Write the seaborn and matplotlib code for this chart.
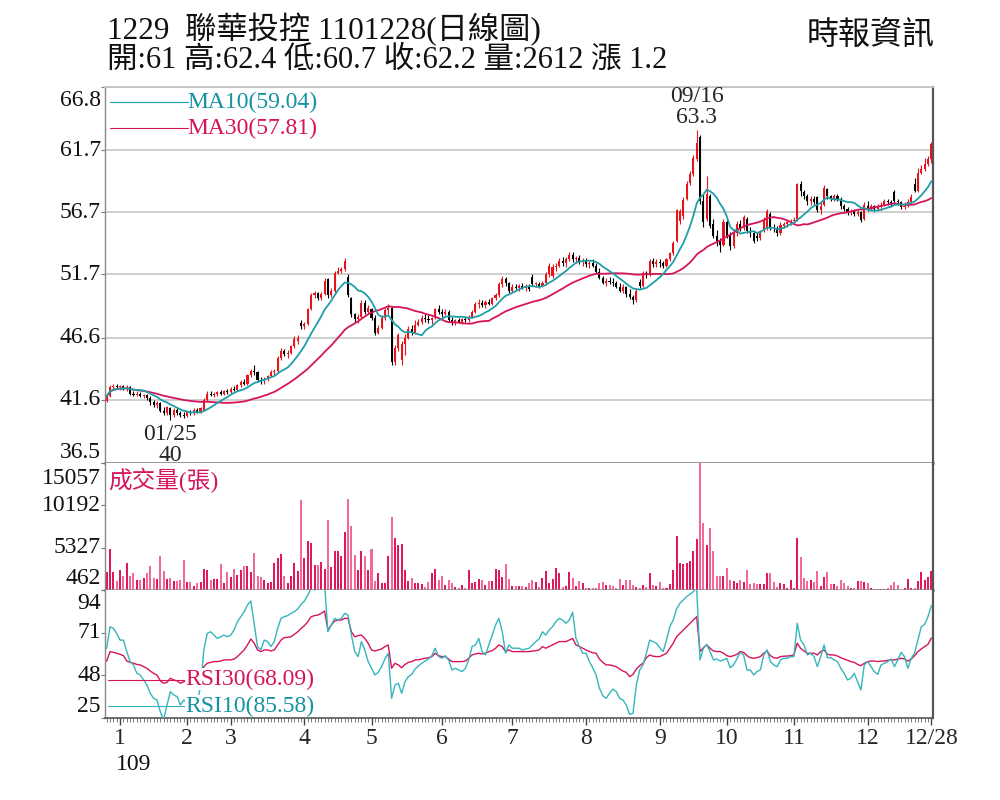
import numpy as np
import pandas as pd
import matplotlib
matplotlib.use("Agg")
import matplotlib.pyplot as plt
import matplotlib.transforms as mtransforms
from matplotlib.ticker import FixedLocator
import seaborn as sns

# daily candles, 2020-12-28 .. 2021-12-28 (trading-day index)
opens = [
    41.5, 41.9, 42.6, 42.7, 42.6, 42.7, 42.5, 42.6, 42.1, 42.0,
    42.1, 41.9, 42.0, 41.7, 41.4, 41.2, 41.3, 40.7, 40.5, 40.9,
    40.4, 40.8, 40.5, 40.4, 40.3, 40.6, 40.5, 40.8, 40.6, 40.8,
    41.6, 42.1, 42.0, 42.1, 42.2, 42.1, 42.3, 42.2, 42.5, 42.4,
    42.8, 43.0, 42.9, 43.6, 43.9, 43.8, 43.2, 43.1, 43.3, 43.5,
    43.8, 43.9, 45.0, 45.5, 45.3, 45.4, 45.9, 46.3, 47.8, 47.5,
    47.7, 48.9, 50.0, 50.2, 49.8, 50.1, 51.3, 50.0, 50.4, 51.8,
    52.0, 52.1, 51.5, 49.8, 48.5, 48.1, 48.3, 49.4, 48.7, 48.9,
    48.2, 47.0, 47.4, 48.2, 48.8, 49.0, 44.6, 45.8, 44.8, 46.1,
    46.6, 47.3, 47.0, 47.6, 47.9, 48.2, 48.1, 48.0, 48.2, 48.9,
    48.7, 48.5, 48.7, 48.0, 47.8, 48.0, 47.9, 48.1, 48.0, 48.3,
    48.7, 49.3, 49.4, 49.2, 49.5, 49.3, 49.8, 50.0, 50.9, 51.3,
    51.0, 50.4, 50.7, 50.6, 50.8, 50.6, 50.7, 51.5, 50.9, 50.9,
    50.8, 51.0, 51.7, 51.6, 52.3, 52.4, 52.8, 52.6, 52.9, 53.3,
    52.9, 53.0, 52.7, 52.8, 52.5, 52.6, 52.4, 51.9, 51.4, 51.0,
    51.2, 51.1, 51.0, 50.7, 50.4, 50.7, 50.1, 49.9, 49.6, 51.1,
    50.8, 51.8, 51.7, 52.8, 52.5, 52.7, 52.6, 52.4, 52.9, 53.4,
    54.4, 56.0, 56.4, 57.8, 59.1, 59.8, 61.0, 62.8, 57.6, 56.2,
    58.0, 55.8, 54.8, 54.4, 54.1, 55.9, 54.8, 54.0, 55.0, 55.8,
    55.4, 56.2, 55.2, 55.0, 54.8, 54.6, 55.2, 55.5, 56.6, 55.5,
    55.4, 55.0, 55.6, 55.8, 55.9, 56.0, 56.1, 59.0, 58.3, 58.0,
    57.6, 57.8, 57.9, 56.9, 57.3, 58.6, 58.0, 57.8, 58.0, 57.8,
    57.2, 57.0, 56.7, 56.8, 56.6, 56.7, 56.2, 57.2, 57.0, 57.2,
    57.0, 57.1, 57.3, 57.6, 57.5, 58.3, 57.6, 57.5, 57.1, 57.2,
    57.5, 59.0, 58.4, 59.9, 60.2, 60.6, 61.0,
]
highs = [
    42.0, 42.8, 42.9, 42.9, 42.8, 42.8, 42.8, 42.7, 42.3, 42.3,
    42.2, 42.1, 42.1, 41.9, 41.6, 41.5, 41.4, 41.0, 41.1, 41.0,
    40.9, 41.0, 40.7, 40.6, 40.7, 40.8, 40.9, 40.9, 41.0, 41.7,
    42.3, 42.3, 42.2, 42.3, 42.4, 42.4, 42.5, 42.6, 42.7, 42.9,
    43.2, 43.3, 43.7, 44.1, 44.4, 43.9, 43.4, 43.4, 43.6, 44.0,
    44.1, 45.1, 45.8, 45.7, 45.6, 46.0, 46.7, 46.8, 48.0, 47.9,
    49.0, 50.2, 50.4, 50.3, 50.3, 51.4, 51.4, 50.6, 52.0, 52.3,
    52.3, 53.0, 51.7, 49.9, 48.6, 48.5, 49.6, 49.6, 49.2, 49.0,
    48.4, 47.6, 48.4, 49.0, 49.3, 49.1, 46.0, 47.0, 46.3, 46.9,
    47.5, 47.6, 48.0, 48.1, 48.4, 48.5, 48.4, 48.3, 49.0, 49.2,
    48.9, 48.9, 48.8, 48.3, 48.1, 48.2, 48.2, 48.3, 48.4, 48.8,
    49.5, 49.7, 49.6, 49.6, 49.7, 49.9, 50.2, 51.1, 51.6, 51.5,
    51.1, 50.9, 50.9, 50.9, 51.0, 50.9, 50.9, 51.7, 51.1, 51.1,
    51.2, 51.9, 52.6, 52.5, 52.6, 53.0, 53.1, 53.1, 53.5, 53.5,
    53.2, 53.3, 53.0, 53.0, 52.8, 52.9, 52.6, 52.2, 51.6, 51.4,
    51.5, 51.4, 51.2, 51.0, 50.9, 50.8, 50.5, 50.0, 50.6, 51.3,
    52.0, 52.0, 52.9, 53.0, 52.9, 52.9, 52.8, 53.0, 53.5, 54.4,
    57.0, 57.0, 57.9, 59.2, 60.0, 61.3, 63.3, 62.9, 58.2, 59.6,
    58.2, 56.2, 55.3, 54.6, 56.2, 56.1, 55.1, 55.3, 56.0, 56.1,
    56.5, 56.3, 55.5, 55.2, 55.1, 55.3, 56.3, 57.0, 56.7, 55.8,
    55.6, 55.9, 55.9, 56.1, 56.2, 56.3, 59.1, 59.2, 58.5, 58.2,
    58.0, 58.0, 58.0, 57.5, 58.9, 58.7, 58.1, 58.2, 58.2, 57.9,
    57.4, 57.1, 57.0, 57.0, 56.9, 56.8, 57.5, 57.6, 57.4, 57.3,
    57.4, 57.5, 57.8, 57.8, 57.7, 58.5, 57.8, 57.6, 57.5, 57.8,
    58.2, 59.5, 60.3, 60.5, 61.1, 61.2, 62.4,
]
lows = [
    41.4, 41.8, 42.4, 42.5, 42.4, 42.4, 42.3, 42.0, 41.9, 41.9,
    41.8, 41.7, 41.6, 41.2, 41.0, 40.9, 40.6, 40.4, 40.4, 40.0,
    40.2, 40.4, 40.2, 40.1, 40.2, 40.4, 40.4, 40.5, 40.5, 40.7,
    41.5, 41.9, 41.8, 41.9, 42.0, 42.0, 42.1, 42.1, 42.3, 42.3,
    42.6, 42.8, 42.8, 43.4, 43.6, 43.0, 42.9, 42.9, 43.1, 43.4,
    43.6, 43.8, 44.8, 45.1, 45.0, 45.3, 45.8, 46.1, 47.3, 47.3,
    47.6, 48.8, 49.8, 49.6, 49.6, 50.0, 49.8, 49.9, 50.3, 51.7,
    51.8, 52.0, 49.9, 48.3, 47.9, 47.8, 48.2, 48.5, 48.5, 48.0,
    46.8, 46.9, 47.3, 48.0, 48.5, 44.4, 44.4, 45.5, 44.4, 45.2,
    46.5, 46.8, 46.9, 47.5, 47.7, 47.9, 47.8, 47.7, 48.1, 48.5,
    48.3, 48.4, 47.9, 47.6, 47.6, 47.8, 47.7, 47.9, 47.9, 48.2,
    48.6, 49.0, 49.1, 49.0, 49.2, 49.2, 49.6, 49.9, 50.7, 50.8,
    50.2, 50.3, 50.5, 50.4, 50.5, 50.4, 50.4, 50.8, 50.7, 50.6,
    50.7, 50.9, 51.5, 51.4, 52.0, 52.3, 52.4, 52.3, 52.8, 52.7,
    52.6, 52.5, 52.4, 52.3, 52.2, 52.3, 51.8, 51.3, 50.9, 50.8,
    50.9, 50.8, 50.6, 50.3, 50.2, 49.9, 49.7, 49.3, 49.5, 50.6,
    50.7, 51.4, 51.6, 52.3, 52.3, 52.3, 52.2, 52.3, 52.8, 53.3,
    54.3, 55.8, 56.2, 57.7, 58.9, 59.6, 60.8, 57.4, 55.5, 56.0,
    55.4, 54.6, 54.0, 53.5, 54.0, 54.6, 53.7, 53.8, 54.8, 55.2,
    55.3, 55.0, 54.7, 54.2, 54.4, 54.5, 55.1, 55.3, 55.3, 55.1,
    54.8, 54.9, 55.4, 55.5, 55.7, 55.8, 56.0, 58.0, 57.8, 57.3,
    57.3, 57.4, 56.7, 56.6, 57.2, 57.8, 57.6, 57.6, 57.6, 57.0,
    56.8, 56.5, 56.5, 56.4, 56.4, 55.9, 56.1, 56.8, 56.9, 56.8,
    56.9, 56.9, 57.2, 57.3, 57.2, 57.4, 57.3, 57.0, 57.0, 57.1,
    57.4, 58.3, 58.3, 59.8, 60.0, 60.4, 60.7,
]
closes = [
    41.9, 42.6, 42.7, 42.6, 42.7, 42.5, 42.6, 42.1, 42.0, 42.1,
    41.9, 42.0, 41.7, 41.4, 41.2, 41.3, 40.7, 40.5, 41.0, 40.4,
    40.8, 40.5, 40.4, 40.3, 40.6, 40.5, 40.8, 40.6, 40.9, 41.6,
    42.1, 42.0, 42.1, 42.2, 42.1, 42.3, 42.2, 42.5, 42.4, 42.8,
    43.0, 42.9, 43.6, 43.9, 43.8, 43.2, 43.1, 43.3, 43.5, 43.8,
    43.9, 45.0, 45.5, 45.3, 45.4, 45.9, 46.5, 46.6, 47.5, 47.7,
    48.9, 50.0, 50.2, 49.8, 50.1, 51.2, 50.0, 50.4, 51.8, 52.0,
    52.1, 52.8, 50.0, 48.5, 48.1, 48.3, 49.4, 48.7, 49.0, 48.2,
    47.0, 47.4, 48.2, 48.8, 49.0, 44.6, 45.8, 46.8, 46.1, 46.6,
    47.3, 47.0, 47.6, 47.9, 48.2, 48.1, 48.0, 48.2, 48.9, 48.7,
    48.5, 48.7, 48.0, 47.8, 48.0, 47.9, 48.1, 48.0, 48.3, 48.7,
    49.3, 49.4, 49.2, 49.5, 49.3, 49.8, 50.0, 50.9, 51.3, 51.0,
    50.4, 50.7, 50.6, 50.8, 50.6, 50.7, 50.5, 50.9, 50.9, 50.8,
    51.0, 51.7, 52.4, 52.3, 52.4, 52.8, 52.6, 52.9, 53.3, 52.9,
    53.0, 52.7, 52.8, 52.5, 52.6, 52.4, 51.9, 51.4, 51.0, 51.2,
    51.1, 51.0, 50.7, 50.4, 50.7, 50.1, 49.9, 49.6, 50.4, 50.8,
    51.8, 51.7, 52.8, 52.5, 52.7, 52.6, 52.4, 52.9, 53.4, 54.2,
    56.9, 56.8, 57.7, 59.0, 59.8, 61.1, 62.3, 57.6, 55.9, 58.2,
    55.6, 54.8, 54.4, 54.1, 55.9, 54.8, 54.0, 55.0, 55.8, 55.4,
    56.3, 55.2, 55.0, 54.4, 54.6, 55.2, 56.1, 56.8, 55.5, 55.4,
    55.0, 55.7, 55.8, 55.9, 56.0, 56.1, 59.0, 58.4, 58.0, 57.6,
    57.8, 57.5, 56.9, 57.2, 58.7, 58.0, 57.8, 58.0, 57.8, 57.2,
    57.0, 56.7, 56.8, 56.6, 56.7, 56.1, 57.3, 57.0, 57.2, 57.0,
    57.1, 57.3, 57.6, 57.5, 57.4, 57.6, 57.5, 57.1, 57.2, 57.5,
    57.9, 58.4, 59.9, 60.2, 60.6, 61.0, 62.2,
]
volumes = [
    2585, 5171, 2508, 1504, 2778, 2118, 3550, 2118, 2392, 1620,
    1620, 1890, 2392, 3164, 1890, 1736, 4400, 2662, 1736, 1890,
    1504, 1504, 1620, 3936, 1427, 1427, 963, 1234, 1427, 2855,
    2778, 1620, 1736, 1736, 3434, 1311, 2508, 2006, 2855, 2199,
    2778, 3242, 3242, 2585, 4708, 2122, 2006, 1620, 1311, 1427,
    3550, 4129, 4592, 2122, 1234, 2122, 3550, 2662, 10808, 4129,
    6136, 5866, 3357, 3357, 3666, 2855, 8491, 3048, 4901, 4978,
    4322, 7140, 10962, 7796, 4515, 2778, 4901, 4400, 2778, 5171,
    1504, 2392, 1311, 1234, 4322, 8839, 6445, 5673, 5750, 2778,
    1504, 1890, 1311, 1311, 1118, 848, 1427, 2392, 2855, 1620,
    2122, 1040, 1620, 1234, 848, 732, 1040, 732, 2778, 1234,
    1427, 1736, 1620, 1040, 1504, 1504, 2855, 2778, 2006, 3434,
    1736, 925, 925, 925, 925, 848, 1234, 1620, 1427, 848,
    1890, 2662, 1234, 1736, 2971, 2392, 848, 925, 2585, 1890,
    963, 1504, 1234, 655, 655, 655, 655, 1311, 1427, 1040,
    1040, 963, 732, 1697, 1040, 1620, 1620, 1040, 848, 732,
    1040, 848, 2392, 1040, 963, 1350, 732, 732, 1118, 2778,
    6715, 3550, 3434, 3550, 3743, 4978, 6368, 15057, 8182, 5673,
    7603, 4901, 2122, 2122, 2122, 2971, 1620, 1504, 1311, 1620,
    1350, 2778, 1157, 1234, 1118, 1118, 1118, 2392, 2392, 1350,
    848, 1234, 1118, 732, 1620, 732, 6445, 4206, 1813, 1504,
    1620, 1350, 2662, 963, 2006, 2508, 1118, 1118, 963, 1620,
    1234, 963, 655, 655, 1504, 1504, 1427, 1234, 655, 578,
    578, 578, 578, 732, 1040, 1427, 1040, 500, 655, 1736,
    655, 655, 1504, 2508, 1620, 2006, 2612,
]
rsi10 = [
    62.6, 74.2, 73.3, 70.6, 67.0, 67.0, 60.8, 55.4, 53.6, 49.1,
    48.2, 45.5, 42.8, 38.3, 35.6, 34.7, 28.4, 24.0, 32.0, 39.2,
    37.4, 36.5, 32.0, 34.7, 33.0, 30.0, 35.0, 33.0, 42.0, 62.0,
    70.6, 71.5, 69.7, 67.9, 68.8, 69.7, 68.8, 69.7, 72.4, 76.9,
    79.6, 82.3, 85.9, 88.1, 76.0, 63.5, 61.7, 67.0, 66.2, 63.5,
    66.2, 73.3, 78.7, 79.6, 80.2, 81.4, 82.3, 83.8, 86.3, 88.1,
    91.3, 95.0, 94.0, 96.0, 96.0, 97.0, 71.5, 75.1, 78.7, 77.8,
    78.7, 81.4, 80.5, 69.7, 60.8, 58.1, 66.2, 61.7, 55.4, 51.8,
    48.2, 49.6, 52.7, 56.8, 59.9, 35.6, 42.8, 43.7, 38.3, 44.6,
    47.3, 48.5, 51.4, 53.0, 54.5, 55.7, 56.8, 58.6, 62.6, 58.1,
    57.2, 58.6, 56.3, 50.9, 51.8, 50.9, 50.0, 51.8, 56.3, 63.5,
    64.4, 67.9, 60.8, 59.0, 64.4, 69.7, 75.1, 78.7, 71.5, 59.9,
    64.4, 62.6, 62.6, 62.6, 61.7, 62.2, 62.6, 64.4, 66.2, 67.6,
    71.5, 69.7, 72.4, 74.2, 76.9, 78.7, 77.8, 76.0, 77.8, 82.0,
    67.9, 63.5, 59.9, 59.9, 55.4, 52.1, 48.2, 41.0, 37.0, 35.6,
    38.3, 40.6, 39.2, 35.6, 34.7, 32.0, 27.0, 27.5, 42.8, 50.9,
    53.6, 59.9, 67.0, 66.2, 65.3, 62.9, 60.8, 67.0, 74.2, 77.8,
    83.8, 86.8, 88.6, 90.4, 91.7, 93.1, 95.0, 56.3, 62.6, 64.7,
    60.8, 56.3, 56.8, 55.7, 56.3, 57.2, 52.1, 53.6, 56.8, 60.4,
    59.0, 50.9, 50.9, 48.2, 50.0, 50.9, 59.0, 61.7, 55.4, 53.6,
    52.7, 56.3, 57.2, 57.2, 58.1, 58.1, 76.0, 67.0, 64.4, 59.0,
    59.9, 58.1, 52.7, 58.1, 64.4, 57.5, 57.5, 56.3, 55.4, 51.8,
    49.1, 45.5, 46.4, 49.1, 44.6, 40.1, 53.6, 55.4, 52.7, 50.0,
    48.5, 53.6, 54.5, 55.4, 56.8, 52.7, 56.3, 60.4, 58.1, 51.8,
    57.2, 59.9, 67.0, 74.2, 75.5, 79.6, 85.6,
]
rsi30 = [
    55.7, 60.8, 60.4, 59.9, 59.3, 58.6, 55.7, 55.0, 54.5, 53.9,
    53.6, 52.7, 51.8, 50.3, 49.1, 48.2, 45.0, 43.7, 44.2, 46.4,
    45.5, 45.0, 43.7, 44.6, 45.0, 45.5, 46.4, 46.0, 47.3, 52.7,
    54.5, 55.0, 55.4, 55.4, 55.7, 56.3, 56.3, 56.3, 56.8, 58.1,
    59.9, 61.7, 64.4, 67.6, 65.3, 61.7, 60.8, 61.7, 61.7, 61.1,
    61.7, 64.4, 67.0, 68.3, 68.5, 68.8, 70.1, 71.5, 73.3, 74.8,
    76.9, 79.6, 80.2, 80.5, 81.4, 82.7, 72.4, 75.1, 77.3, 77.8,
    77.8, 78.7, 78.7, 71.5, 68.8, 69.4, 69.7, 67.9, 65.3, 61.7,
    61.1, 61.7, 62.2, 63.5, 64.4, 51.8, 54.5, 53.6, 52.1, 53.9,
    55.0, 55.4, 56.3, 56.4, 56.8, 57.2, 57.5, 58.1, 59.9, 58.6,
    58.1, 58.1, 56.8, 55.4, 55.4, 55.4, 55.4, 55.7, 57.2, 59.0,
    59.5, 59.9, 59.5, 59.9, 60.8, 61.3, 62.6, 64.4, 63.5, 60.8,
    61.7, 60.8, 60.8, 60.8, 60.8, 60.8, 60.8, 61.1, 61.3, 61.7,
    63.5, 62.6, 63.5, 64.4, 65.3, 66.2, 66.2, 66.2, 67.0, 67.9,
    64.4, 63.5, 62.6, 61.7, 60.8, 60.2, 59.9, 56.8, 55.0, 53.6,
    53.6, 53.2, 52.7, 51.4, 50.3, 49.6, 47.3, 48.5, 51.4, 53.2,
    54.5, 57.5, 59.0, 58.3, 58.1, 58.1, 59.0, 59.9, 62.6, 65.3,
    68.8, 70.6, 72.4, 74.2, 76.0, 77.8, 79.6, 60.8, 62.9, 64.4,
    62.6, 61.1, 60.8, 60.8, 59.9, 58.6, 58.1, 58.6, 59.3, 60.8,
    60.4, 58.6, 57.5, 57.2, 57.5, 58.1, 59.9, 61.1, 58.6, 57.5,
    57.2, 58.1, 58.3, 58.4, 58.6, 59.0, 65.3, 62.6, 61.1, 59.9,
    59.9, 59.9, 59.0, 60.8, 61.7, 59.3, 59.0, 59.0, 58.4, 57.5,
    56.8, 56.1, 55.4, 55.0, 53.9, 53.2, 54.5, 55.4, 55.7, 55.7,
    55.4, 55.7, 55.7, 56.1, 56.3, 56.3, 56.8, 57.2, 56.8, 55.7,
    56.8, 58.6, 60.8, 62.2, 63.5, 64.7, 68.1,
]

# month ticks: first trading day of each month, plus last day
month_pos = [4, 24, 37, 59, 79, 100, 121, 143, 165, 185, 205, 227, 246]
month_labels = ["1", "2", "3", "4", "5", "6", "7", "8", "9", "10", "11", "12", "12/28"]

price_ticks = [36.5, 41.6, 46.6, 51.7, 56.7, 61.7, 66.8]
vol_ticks = [462, 5327, 10192, 15057]
rsi_ticks = [25, 48, 71, 94]

RED = "#e8141c"
BLACK = "#000000"
TEAL = "#1f9ea8"
TEAL_TXT = "#1593a3"
RSI_TEAL = "#35b5bd"
CRIMSON = "#d6145c"
VOL_UP = "#e0185e"
VOL_DN = "#f3679b"
FONTS = ["Liberation Serif", "Noto Sans CJK TC", "DejaVu Sans"]

sns.set_theme(style="white")
plt.rcParams["font.family"] = FONTS

df = pd.DataFrame({"day": np.arange(len(closes)), "open": opens, "high": highs,
                   "low": lows, "close": closes, "volume": volumes,
                   "rsi10": rsi10, "rsi30": rsi30})
df["ma10"] = df["close"].rolling(10, min_periods=1).mean()
df["ma30"] = df["close"].rolling(30, min_periods=1).mean()
up = (df["close"] >= df["open"]).values
n = len(df)

fig = plt.figure(figsize=(10, 8), dpi=100)
fig.patch.set_facecolor("white")
ax_p = fig.add_axes([0.105, 0.42125, 0.828, 0.47])
ax_v = fig.add_axes([0.105, 0.2625, 0.828, 0.15875], sharex=ax_p)
ax_r = fig.add_axes([0.105, 0.1025, 0.828, 0.16], sharex=ax_p)

# --- price panel ---
cols = np.where(up, RED, BLACK)
ax_p.vlines(df["day"], df["low"], df["high"], colors=cols, linewidth=0.8, zorder=2)
body_lo = np.minimum(df["open"], df["close"])
body_h = np.maximum((df["close"] - df["open"]).abs(), 0.08)
ax_p.bar(df["day"], body_h, bottom=body_lo, width=0.62, color=cols, linewidth=0, zorder=2)
sns.lineplot(x=df["day"], y=df["ma30"], ax=ax_p, color=CRIMSON, linewidth=1.3, zorder=3)
sns.lineplot(x=df["day"], y=df["ma10"], ax=ax_p, color=TEAL, linewidth=1.3, zorder=4)
ax_p.set_ylim(price_ticks[0], price_ticks[-1])
ax_p.set_yticks(price_ticks)
ax_p.yaxis.grid(True, color="#cccccc", linewidth=1.3)
ax_p.set_axisbelow(True)

# --- volume panel ---
ax_v.bar(df["day"], df["volume"], width=0.6, color=np.where(up, VOL_UP, VOL_DN), linewidth=0)
ax_v.set_ylim(vol_ticks[0], vol_ticks[-1])
ax_v.set_yticks(vol_ticks)

# --- RSI panel ---
sns.lineplot(x=df["day"], y=df["rsi30"], ax=ax_r, color=CRIMSON, linewidth=1.0, zorder=3)
sns.lineplot(x=df["day"], y=df["rsi10"], ax=ax_r, color=RSI_TEAL, linewidth=1.0, zorder=3)
ax_r.set_ylim(rsi_ticks[0], rsi_ticks[-1])
ax_r.set_yticks(rsi_ticks)

ax_r.set_xlim(-0.5, n - 0.5)
ax_r.set_xticks(month_pos, month_labels)
ax_r.xaxis.set_minor_locator(FixedLocator(np.arange(n)))
ax_r.tick_params(axis="x", which="major", length=5, width=1, color="#444",
                 pad=2, labelsize=17, bottom=True, direction="out")
ax_r.tick_params(axis="x", which="minor", length=3, width=0.6, color="#666",
                 bottom=True, direction="out")
for ax in (ax_p, ax_v):
    ax.tick_params(axis="x", which="both", bottom=False, labelbottom=False)

for ax in (ax_p, ax_v, ax_r):
    ax.set_xlabel("")
    ax.set_ylabel("")
    ax.set_facecolor("white")
    ax.set_yticklabels([])
    ax.tick_params(axis="y", which="major", left=True, length=3, width=0.8,
                   color="#777", direction="out", pad=0)
    ax.spines["left"].set_color("#888888")
    ax.spines["left"].set_linewidth(1.0)
    ax.spines["right"].set_color("#555555")
    ax.spines["right"].set_linewidth(1.6)
    ax.spines["top"].set_visible(False)
    ax.spines["bottom"].set_color("#888888")
    ax.spines["bottom"].set_linewidth(1.8)
ax_p.spines["top"].set_visible(True)
ax_p.spines["top"].set_color("#c4c4c4")
ax_p.spines["top"].set_linewidth(1.3)
ax_r.spines["bottom"].set_color("#555555")
ax_r.spines["bottom"].set_linewidth(1.2)


def side_labels(ax, ticks, texts, top_dy, bottom_dy):
    for k, (v, t) in enumerate(zip(ticks, texts)):
        dy = bottom_dy if k == 0 else (top_dy if k == len(ticks) - 1 else 0)
        ax.annotate(t, xy=(0, v), xycoords=("axes fraction", "data"),
                    xytext=(-3, dy), textcoords="offset points", ha="right",
                    va="center", fontsize=17, color="#111", annotation_clip=False)


side_labels(ax_p, price_ticks, [f"{v:.1f}" for v in price_ticks], -9.4, 7.9)
side_labels(ax_v, vol_ticks, [str(v) for v in vol_ticks], -10.8, 8.6)
side_labels(ax_r, rsi_ticks, [str(v) for v in rsi_ticks], -10.0, 8.6)

# year under the first month label
ax_r.text(7.9, -0.36, "109", transform=mtransforms.blended_transform_factory(ax_r.transData, ax_r.transAxes),
          ha="center", va="center", fontsize=17, color="#111")

# high / low annotations
hi_i = int(df["high"].idxmax())
lo_i = int(df["low"].idxmin())
ax_p.annotate("09/16\n63.3", xy=(hi_i, df["high"][hi_i]), xytext=(0, 2), textcoords="offset points",
              ha="center", va="bottom", fontsize=17, linespacing=1.0, annotation_clip=False, zorder=6)
ax_p.annotate("01/25\n40", xy=(lo_i, df["low"][lo_i]), xytext=(0, -3), textcoords="offset points",
              ha="center", va="top", fontsize=17, linespacing=1.0, annotation_clip=False, zorder=6)

# legends drawn like the terminal chart
ax_p.plot([0.006, 0.100], [0.960, 0.960], transform=ax_p.transAxes, color=TEAL, linewidth=0.8)
ax_p.text(0.100, 0.960, "MA10(59.04)", transform=ax_p.transAxes, color=TEAL_TXT,
          fontsize=17, ha="left", va="center")
ax_p.plot([0.006, 0.100], [0.891, 0.891], transform=ax_p.transAxes, color=CRIMSON, linewidth=0.8)
ax_p.text(0.100, 0.891, "MA30(57.81)", transform=ax_p.transAxes, color=CRIMSON,
          fontsize=17, ha="left", va="center")

ax_v.text(0.004, 0.866, "成交量(張)", transform=ax_v.transAxes, color=CRIMSON,
          fontsize=17, ha="left", va="center", family=FONTS)

ax_r.plot([0.004, 0.097], [0.297, 0.297], transform=ax_r.transAxes, color=CRIMSON, linewidth=0.8, zorder=4)
ax_r.text(0.097, 0.305, "RSI30(68.09)", transform=ax_r.transAxes, color=CRIMSON, fontsize=17,
          ha="left", va="center", zorder=5,
          bbox=dict(facecolor="white", edgecolor="none", pad=0.5))
ax_r.plot([0.004, 0.097], [0.094, 0.094], transform=ax_r.transAxes, color=RSI_TEAL, linewidth=0.8, zorder=4)
ax_r.text(0.097, 0.094, "RSI10(85.58)", transform=ax_r.transAxes, color=TEAL_TXT, fontsize=17,
          ha="left", va="center", zorder=5,
          bbox=dict(facecolor="white", edgecolor="none", pad=0.5))

# header
fig.text(0.107, 1 - 30 / 800, "1229  聯華投控 1101228(日線圖)", fontsize=22.5,
         ha="left", va="center", color="#111", family=FONTS)
fig.text(0.107, 1 - 60 / 800, "開:61 高:62.4 低:60.7 收:62.2 量:2612 漲 1.2", fontsize=22,
         ha="left", va="center", color="#111", family=FONTS)
fig.text(0.935, 1 - 36 / 800, "時報資訊", fontsize=23, ha="right", va="center",
         color="#111", family=FONTS)

fig.savefig("out.png", dpi=100, facecolor="white")
